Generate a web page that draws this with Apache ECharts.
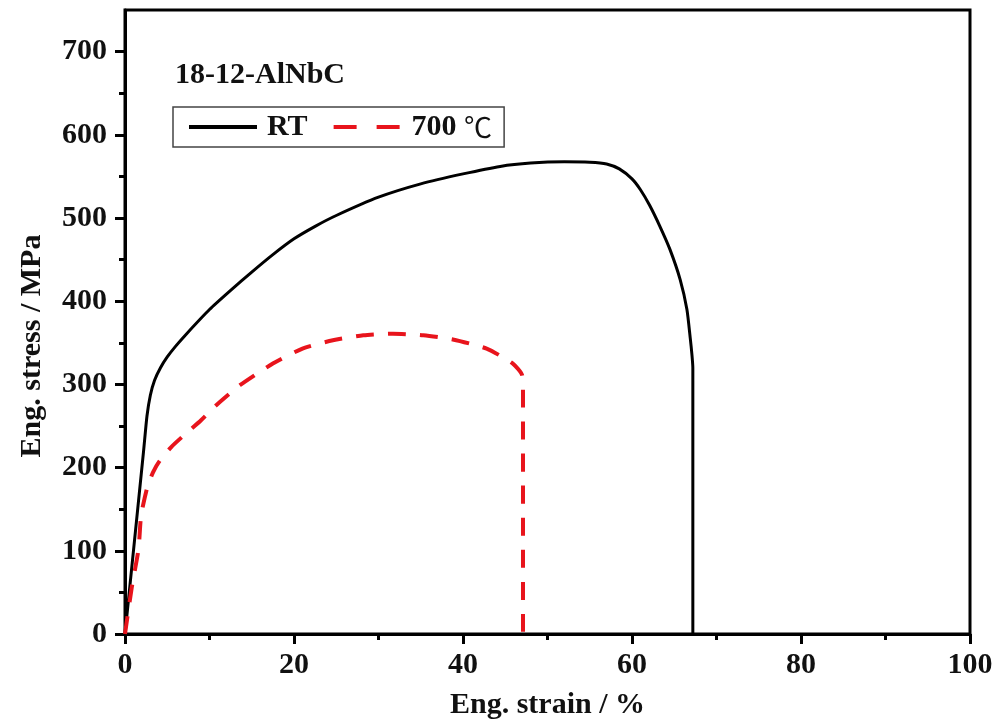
<!DOCTYPE html>
<html>
<head>
<meta charset="utf-8">
<script src="https://cdn.jsdelivr.net/npm/echarts@6/dist/echarts.min.js"></script>
<style>html,body{margin:0;padding:0;background:#fff;}#chart{width:997px;height:725px;}</style>
</head>
<body>
<div id="chart"></div>
<script>
// ---- data ----
const chartTitle = '18-12-AlNbC';
const seriesNames = ['RT', '700 ℃'];
const rtData = [[0,0],[1,100],[2.2,220],[2.6,262],[3.0,287],[3.5,305],[4.2,320],[5,333],[6,346],[7.3,361],[10,390],[12.5,413],[15,435],[17.5,456],[20,475],[22.5,490],[25,503],[30,525],[35,541],[40,553],[44.4,562],[48,566],[52,567.5],[55,567],[57,565],[58.5,559],[60,547],[61,534],[62.1,515],[63.3,490],[64.5,462],[65.7,426],[66.5,390],[66.9,355],[67.1,335],[67.2,320],[67.2,0]];
const t700Data = [[0,0],[0.8,56],[1.6,102],[1.9,142],[2.6,175],[3.3,194],[4.1,208],[5.5,225],[7.1,240],[9,257],[10.8,275],[13.6,299],[17.5,325],[21,343],[24.6,353],[28.2,359],[31.7,361],[35.3,359],[38.8,354],[42.8,343],[45.9,325],[47,311],[47.1,290],[47.1,0]];
const xMin = 0, xMax = 100, xInterval = 20;
const yMin = 0, yMax = 750;
const yMajorTicks = [0,100,200,300,400,500,600,700];
const yMinorTicks = [50,150,250,350,450,550,650];
const xName = 'Eng. strain / %';
const yName = 'Eng. stress / MPa';

const font = "'Times New Roman','Liberation Serif',serif";
const chart = echarts.init(document.getElementById('chart'));
chart.setOption({
  animation: false,
  backgroundColor: '#fff',
  title: {
    text: chartTitle, left: 170, top: 55,
    textStyle: {fontFamily: font, fontWeight: 'bold', fontSize: 30, color: '#111'}
  },
  legend: {
    left: 173, top: 107, orient: 'horizontal',
    padding: [5, 12, 5, 14],
    borderColor: '#444', borderWidth: 1.5, borderRadius: 0,
    itemWidth: 68, itemHeight: 14, itemGap: 24,
    itemStyle: {opacity: 0},
    lineStyle: {width: 4},
    formatter: function (name) { return name.replace('℃', '{c|℃}'); },
    textStyle: {
      fontFamily: font, fontWeight: 'bold', fontSize: 30, color: '#111', padding: [0,0,0,5],
      rich: {c: {fontFamily: "'Noto Sans CJK SC', sans-serif", fontWeight: 'normal', fontSize: 28, color: '#111'}}
    },
    data: [
      {name: seriesNames[0]},
      {name: seriesNames[1], lineStyle: {width: 4, type: [23, 20]}}
    ]
  },
  grid: {left: 125, right: 27, top: 10, bottom: 88, show: true, borderColor: '#000', borderWidth: 3, backgroundColor: 'transparent'},
  xAxis: {
    type: 'value', min: xMin, max: xMax, interval: xInterval,
    name: xName, nameLocation: 'middle', nameGap: 56,
    nameTextStyle: {fontFamily: font, fontWeight: 'bold', fontSize: 30, color: '#111'},
    axisLine: {lineStyle: {color: '#000', width: 3}},
    axisTick: {show: true, inside: false, length: 10, lineStyle: {color: '#000', width: 3}},
    minorTick: {show: true, splitNumber: 2, length: 6, lineStyle: {color: '#000', width: 3}},
    axisLabel: {margin: 16, fontFamily: font, fontWeight: 'bold', fontSize: 30, color: '#111'},
    splitLine: {show: false}
  },
  yAxis: [{
    type: 'value', min: yMin, max: yMax,
    name: yName, nameLocation: 'middle', nameGap: 78,
    nameTextStyle: {fontFamily: font, fontWeight: 'bold', fontSize: 30, color: '#111', padding: [0, 48, 0, 0]},
    axisLine: {lineStyle: {color: '#000', width: 3}},
    axisTick: {show: true, inside: false, length: 10, customValues: yMajorTicks, lineStyle: {color: '#000', width: 3}},
    axisLabel: {margin: 18, customValues: yMajorTicks, fontFamily: font, fontWeight: 'bold', fontSize: 30, color: '#111'},
    splitLine: {show: false}
  }, {
    type: 'value', min: yMin, max: yMax, position: 'left',
    axisLine: {show: false},
    axisTick: {show: true, inside: false, length: 6, customValues: yMinorTicks, lineStyle: {color: '#000', width: 3}},
    axisLabel: {show: false},
    splitLine: {show: false}
  }],
  series: [{
    name: seriesNames[0], type: 'line', data: rtData, symbol: 'none', smooth: 0.2,
    lineStyle: {color: '#000', width: 3}, itemStyle: {color: '#000'}
  }, {
    name: seriesNames[1], type: 'line', data: t700Data, symbol: 'none', smooth: 0.2,
    lineStyle: {color: '#e8141c', width: 4, type: [18, 14]}, itemStyle: {color: '#e8141c'}
  }]
});
</script>
</body>
</html>
